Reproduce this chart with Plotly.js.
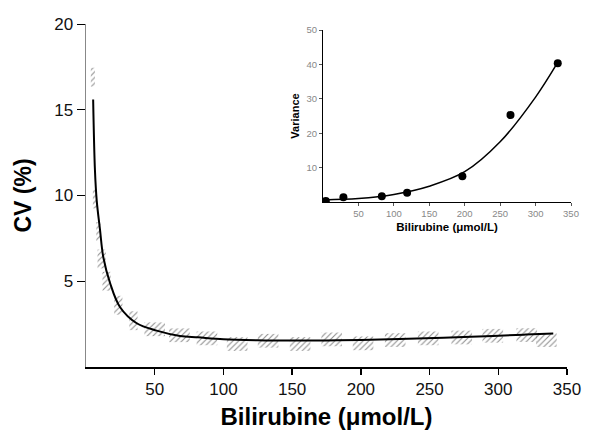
<!DOCTYPE html>
<html>
<head>
<meta charset="utf-8">
<script src="https://cdn.plot.ly/plotly-3.0.1.min.js"></script>
<style>html,body{margin:0;padding:0;background:#fff;}#chart{width:595px;height:430px;}</style>
</head>
<body>
<div id="chart"></div>
<script>
// Main chart: clusters of CV measurements (hatched groups)
var clusterX = [5, 6.5, 9, 11.4, 15, 23.5, 34.5, 50, 68, 88, 110, 132.5, 155.8, 178.8, 201.6, 225, 249, 273.4, 296, 320.7, 335];
var clusterY = [16.9, 9.8, 7.9, 6.3, 5.0, 3.6, 2.7, 2.2, 1.85, 1.67, 1.34, 1.53, 1.34, 1.61, 1.38, 1.57, 1.67, 1.72, 1.82, 1.86, 1.57];
// Main chart: fitted CV curve
var fitX = [5.2, 6.5, 7.8, 10.2, 12.6, 17.5, 24.7, 36.9, 51.4, 68.4, 81.5, 100, 125, 150, 175, 200, 228, 260, 296, 320, 340];
var fitY = [15.6, 11.5, 9.7, 8.0, 6.4, 4.9, 3.5, 2.55, 2.12, 1.81, 1.73, 1.62, 1.56, 1.54, 1.55, 1.58, 1.63, 1.71, 1.81, 1.89, 1.96];
var mainXTicks = [50, 100, 150, 200, 250, 300, 350];
var mainYTicks = [5, 10, 15, 20];
// Inset: variance vs bilirubine
var insetX = [4, 28.8, 83, 118.7, 196.7, 264.6, 331.3];
var insetY = [0.3, 1.35, 1.7, 2.7, 7.5, 25.3, 40.3];
var insetFitX = [0, 50, 100, 150, 200, 250, 300, 331];
var insetFitY = [0.6, 1.0, 2.2, 4.6, 8.8, 17.5, 30.5, 40.5];
var insetXTicks = [50, 100, 150, 200, 250, 300, 350];
var insetYTicks = [10, 20, 30, 40, 50];

var widths = clusterX.map(function(x){ return x < 10 ? 3 : (x < 40 ? 6 : 15); });
var heights = clusterX.map(function(x){ return x < 40 ? 1.1 : 0.8; });
var bases = clusterY.map(function(y, i){ return y - heights[i] / 2; });

var traces = [
  {
    type: 'bar', x: clusterX, y: heights, base: bases, width: widths,
    xaxis: 'x', yaxis: 'y',
    marker: {color: 'rgba(0,0,0,0)', line: {width: 0},
      pattern: {shape: '/', fgcolor: '#8a8a8a', bgcolor: 'rgba(0,0,0,0)', size: 4, solidity: 0.25}},
    hoverinfo: 'skip', showlegend: false
  },
  {
    type: 'scatter', mode: 'lines', x: fitX, y: fitY, xaxis: 'x', yaxis: 'y',
    line: {color: '#000', width: 2, shape: 'spline'}, showlegend: false
  },
  {
    type: 'scatter', mode: 'lines', x: insetFitX, y: insetFitY, xaxis: 'x2', yaxis: 'y2',
    line: {color: '#000', width: 1.5, shape: 'spline'}, showlegend: false
  },
  {
    type: 'scatter', mode: 'markers', x: insetX, y: insetY, xaxis: 'x2', yaxis: 'y2',
    marker: {color: '#000', size: 8}, showlegend: false
  }
];

var W = 595, L = 86, R = 20;
var plotW = W - L - R;
var layout = {
  width: 595, height: 430,
  margin: {l: L, r: R, t: 24, b: 63},
  paper_bgcolor: '#fff', plot_bgcolor: 'rgba(0,0,0,0)',
  barmode: 'overlay',
  font: {family: 'Arial, Liberation Sans, sans-serif', color: '#000'},
  xaxis: {
    domain: [0, 481 / plotW], range: [0, 350], tickvals: mainXTicks,
    showgrid: false, zeroline: false, showline: true, linecolor: '#000', linewidth: 1.5,
    ticks: 'outside', ticklen: 6, tickcolor: '#000', tickwidth: 1.5,
    tickfont: {size: 17, color: '#111'},
    title: {text: 'Bilirubine (\u03bcmol/L)', font: {size: 24, color: '#000', weight: 'bold'}, standoff: 10}
  },
  yaxis: {
    domain: [0, 1], range: [0, 20], tickvals: mainYTicks,
    showgrid: false, zeroline: false, showline: true, linecolor: '#888', linewidth: 1.5,
    ticks: 'outside', ticklen: 8, tickcolor: '#000', tickwidth: 1,
    tickfont: {size: 17, color: '#111'},
    title: {text: 'CV (%)', font: {size: 23, color: '#000', weight: 'bold'}, standoff: 16}
  },
  xaxis2: {
    domain: [(323 - L) / plotW, (571 - L) / plotW], range: [0, 350], tickvals: insetXTicks,
    anchor: 'y2', showgrid: false, zeroline: false, showline: true, linecolor: '#000', linewidth: 1,
    ticks: 'outside', ticklen: 3, tickcolor: '#555', tickfont: {size: 9.5, color: '#888'},
    title: {text: 'Bilirubine (\u03bcmol/L)', font: {size: 11.5, color: '#000', weight: 'bold'}, standoff: 4}
  },
  yaxis2: {
    domain: [(367 - 202) / 343, (367 - 30) / 343], range: [0, 50], tickvals: insetYTicks,
    anchor: 'x2', showgrid: false, zeroline: false, showline: true, linecolor: '#000', linewidth: 1,
    ticks: 'outside', ticklen: 3, tickcolor: '#555', tickfont: {size: 9.5, color: '#888'},
    title: {text: 'Variance', font: {size: 11, color: '#000', weight: 'bold'}, standoff: 4}
  }
};

Plotly.newPlot('chart', traces, layout, {displayModeBar: false, staticPlot: true});
</script>
</body>
</html>
